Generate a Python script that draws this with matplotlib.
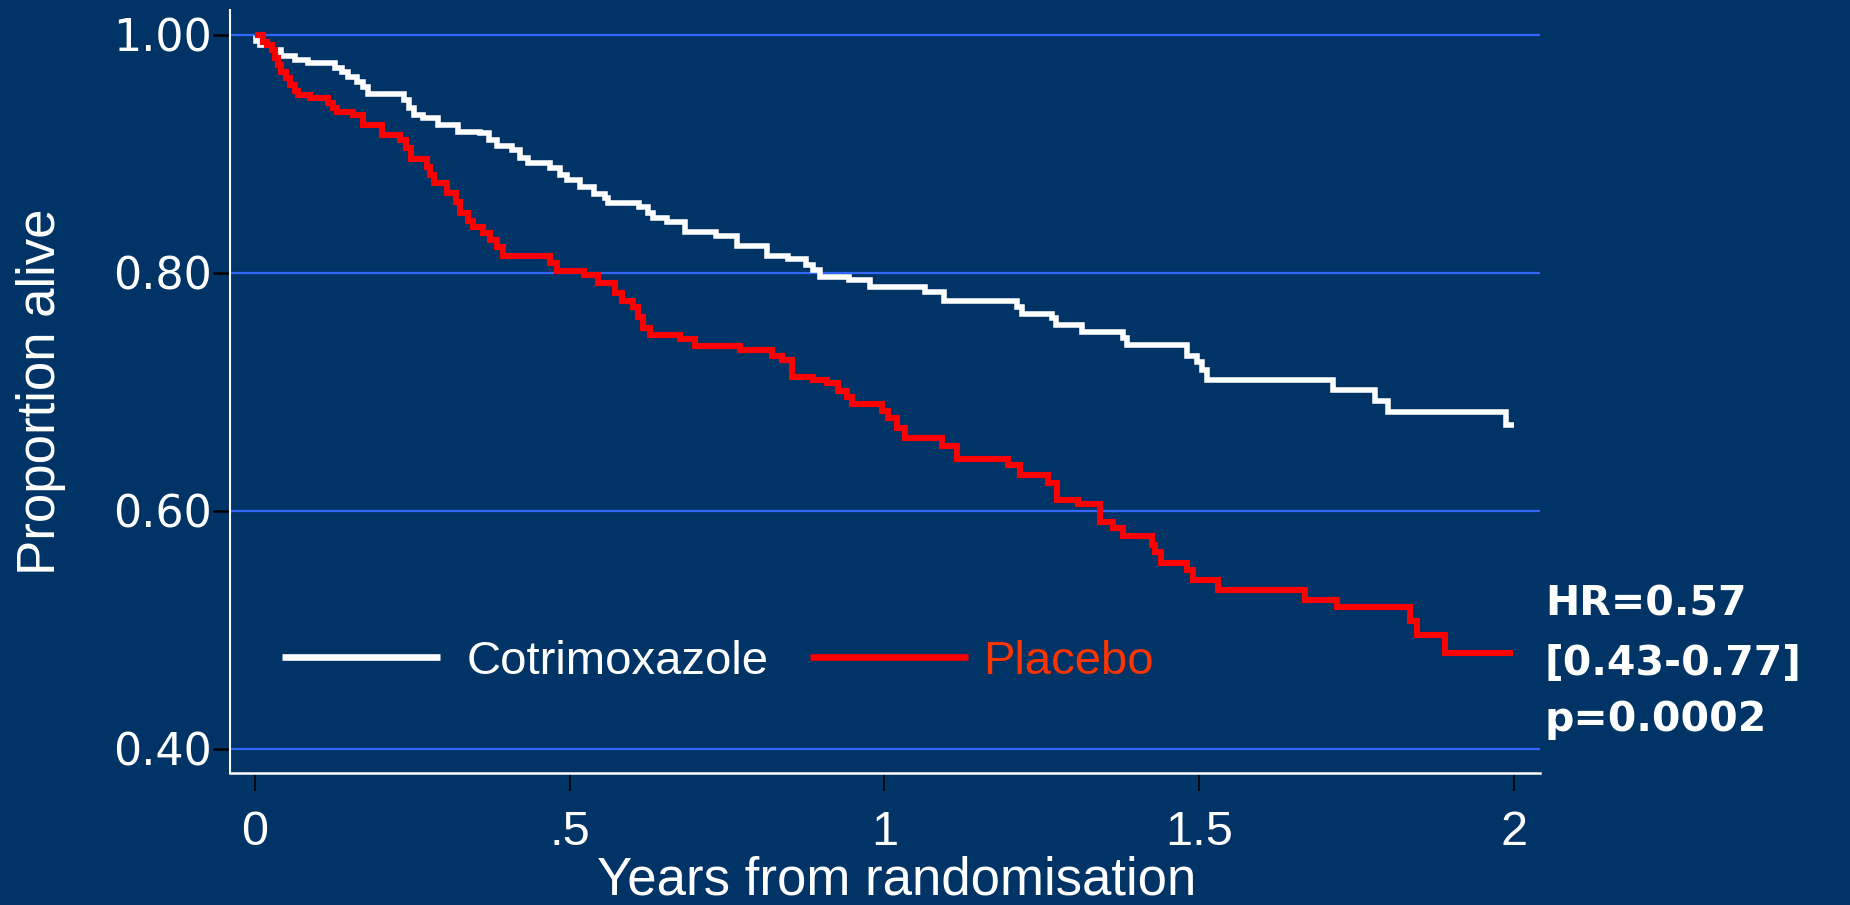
import matplotlib
matplotlib.use('Agg')
import matplotlib.pyplot as plt

# ---------------- data ----------------
groups = ['Cotrimoxazole', 'Placebo']

cot_time = [0, 0.002, 0.008, 0.027, 0.042, 0.064, 0.085, 0.127, 0.138, 0.148,
            0.162, 0.172, 0.180, 0.236, 0.245, 0.252, 0.267, 0.291, 0.323, 0.357,
            0.371, 0.384, 0.408, 0.421, 0.434, 0.469, 0.485, 0.495, 0.516, 0.538,
            0.556, 0.561, 0.610, 0.625, 0.633, 0.654, 0.683, 0.733, 0.765, 0.813,
            0.847, 0.876, 0.887, 0.898, 0.943, 0.977, 1.064, 1.094, 1.210, 1.218,
            1.266, 1.273, 1.314, 1.379, 1.385, 1.480, 1.496, 1.504, 1.512, 1.713,
            1.779, 1.800, 1.988, 2.000]
cot_surv = [1.000, 0.995, 0.9916, 0.9874, 0.9824, 0.979, 0.9767, 0.972, 0.9692, 0.9644,
            0.9608, 0.956, 0.9504, 0.9454, 0.9384, 0.9328, 0.930, 0.9244, 0.9188, 0.9174,
            0.9118, 0.907, 0.9034, 0.8964, 0.8927, 0.888, 0.8824, 0.8782, 0.8725, 0.8664,
            0.8627, 0.8586, 0.8555, 0.850, 0.846, 0.8432, 0.8347, 0.8311, 0.8227, 0.8143,
            0.8115, 0.8067, 0.8025, 0.797, 0.7942, 0.7885, 0.7843, 0.7767, 0.7717, 0.7655,
            0.762, 0.7563, 0.7507, 0.745, 0.7395, 0.7303, 0.7255, 0.7185, 0.710, 0.7017,
            0.6927, 0.6835, 0.6723, 0.6723]

pla_time = [0, 0.013, 0.0185, 0.0265, 0.032, 0.037, 0.042, 0.049, 0.056, 0.0635,
            0.069, 0.087, 0.1165, 0.124, 0.130, 0.156, 0.172, 0.201, 0.230, 0.240,
            0.248, 0.273, 0.278, 0.285, 0.3045, 0.320, 0.326, 0.339, 0.347, 0.363,
            0.373, 0.384, 0.3945, 0.469, 0.479, 0.522, 0.545, 0.572, 0.5825, 0.601,
            0.609, 0.617, 0.6275, 0.675, 0.699, 0.7705, 0.8208, 0.8366, 0.8526, 0.887,
            0.908, 0.9266, 0.940, 0.948, 0.9955, 1.006, 1.0194, 1.0326, 1.091, 1.1147,
            1.1967, 1.2153, 1.2603, 1.2735, 1.308, 1.342, 1.3635, 1.379, 1.4245, 1.4297,
            1.440, 1.480, 1.4906, 1.530, 1.668, 1.7183, 1.835, 1.8454, 1.890, 1.999]
pla_surv = [1.000, 0.9944, 0.9916, 0.9874, 0.9804, 0.9748, 0.9692, 0.9636, 0.958, 0.9532,
            0.9496, 0.9474, 0.9426, 0.9384, 0.9356, 0.9328, 0.9244, 0.916, 0.9118, 0.905,
            0.8955, 0.8894, 0.882, 0.8754, 0.8675, 0.860, 0.8502, 0.844, 0.8389, 0.8333,
            0.8277, 0.8221, 0.8143, 0.8081, 0.802, 0.7983, 0.7913, 0.783, 0.7767, 0.7717,
            0.7633, 0.7535, 0.7478, 0.7443, 0.7387, 0.7353, 0.7303, 0.727, 0.7129, 0.710,
            0.7073, 0.7011, 0.6961, 0.690, 0.6843, 0.6779, 0.6695, 0.6611, 0.6547, 0.6434,
            0.6387, 0.6303, 0.6233, 0.6092, 0.6059, 0.591, 0.5854, 0.579, 0.5714, 0.5658,
            0.5566, 0.5504, 0.542, 0.5336, 0.5252, 0.519, 0.5078, 0.4958, 0.4809, 0.4809]

xticks = [0, 0.5, 1, 1.5, 2]
xticklabels = ['0', '.5', '1', '1.5', '2']
yticks = [0.4, 0.6, 0.8, 1.0]
yticklabels = ['0.40', '0.60', '0.80', '1.00']
stats_lines = ['HR=0.57', '[0.43-0.77]', 'p=0.0002']

# ---------------- style ----------------
BG = '#003366'
GRID = '#3366ff'
WHITE = '#ffffff'
RED = '#ff0000'
PLACEBO_TXT = '#ff3300'
ARIAL = ['Liberation Sans', 'Arimo', 'DejaVu Sans']
VERDANA = ['DejaVu Sans']

fig = plt.figure(figsize=(18.5, 9.05), dpi=100, facecolor=BG)
ax = fig.add_axes([0.12432, 0.14586, 0.70811, 0.84309])
ax.set_facecolor(BG)

ax.set_xlim(-0.0397, 2.0413)
ax.set_ylim(0.3798, 1.021)

# grid lines
ax.set_yticks(yticks)
ax.yaxis.grid(True, color=GRID, linewidth=1.6, zorder=0)
ax.xaxis.grid(False)
ax.set_axisbelow(True)

# curves
l1, = ax.step(cot_time, cot_surv, where='post', color=WHITE, linewidth=4.0,
              solid_joinstyle='miter', solid_capstyle='butt', zorder=3, label=groups[0])
l2, = ax.step(pla_time, pla_surv, where='post', color=RED, linewidth=4.4,
              solid_joinstyle='miter', solid_capstyle='butt', zorder=4, label=groups[1])

# spines
for s in ['top', 'right']:
    ax.spines[s].set_visible(False)
ax.spines['left'].set_color(WHITE)
ax.spines['left'].set_linewidth(1.5)
ax.spines['bottom'].set_color(WHITE)
ax.spines['bottom'].set_linewidth(1.8)

# ticks
ax.set_xticks(xticks)
ax.set_xticklabels(xticklabels, fontfamily=ARIAL, fontsize=35, color=WHITE)
ax.set_yticklabels(yticklabels, fontfamily=VERDANA, fontsize=32, color=WHITE)
ax.tick_params(axis='x', direction='out', length=13, width=1.2, color='black', pad=14)
ax.tick_params(axis='y', direction='out', length=12.5, width=1.8, color='black', pad=0.5)

# axis labels
ax.set_xlabel('Years from randomisation', fontfamily=ARIAL, fontsize=38, color=WHITE)
ax.xaxis.set_label_coords(0.509, -0.108)
ax.set_ylabel('Proportion alive', fontfamily=ARIAL, fontsize=38, color=WHITE)
ax.yaxis.set_label_coords(-0.1252, 0.5)

# legend (two single-entry legends to match key/text spacing)
leg1 = ax.legend(handles=[l1], frameon=False, loc='center left',
                 bbox_to_anchor=((282 - 230) / 1310, 0.1455), borderpad=0, borderaxespad=0,
                 handlelength=3.35, handletextpad=0.55,
                 prop={'family': ARIAL, 'size': 34})
ax.add_artist(leg1)
leg2 = ax.legend(handles=[l2], frameon=False, loc='center left',
                 bbox_to_anchor=((810 - 230) / 1310, 0.1455), borderpad=0, borderaxespad=0,
                 handlelength=3.35, handletextpad=0.32,
                 prop={'family': ARIAL, 'size': 34})
for leg, col in [(leg1, WHITE), (leg2, PLACEBO_TXT)]:
    for line in leg.get_lines():
        line.set_linewidth(4.8)
    for t in leg.get_texts():
        t.set_color(col)

# statistics text
baselines = [615, 675, 731]
for s, yb in zip(stats_lines, baselines):
    fig.text(1545 / 1850, 1 - yb / 905, s, fontfamily=VERDANA, fontweight='bold',
             fontsize=29.5, color=WHITE, ha='left', va='baseline')

fig.savefig('out.png', dpi=100, facecolor=BG)
